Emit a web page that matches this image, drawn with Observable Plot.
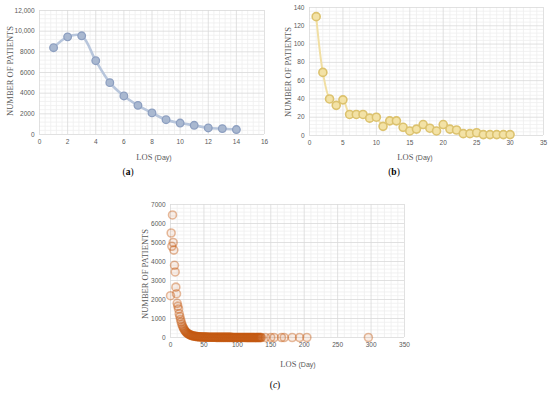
<!DOCTYPE html>
<html>
<head>
<meta charset="utf-8">
<script src="https://cdn.jsdelivr.net/npm/d3@7"></script>
<script src="https://cdn.jsdelivr.net/npm/@observablehq/plot@0.6"></script>
<style>
  html, body { margin: 0; padding: 0; background: #fff; }
  #root { position: relative; width: 550px; height: 394px; overflow: hidden; background: #fff; }
  .panel { position: absolute; }
  .ytitle { position: absolute; font-family: "Liberation Serif", "DejaVu Serif", serif; font-size: 8.5px; color: #595959;
            transform: translate(-50%, -50%) rotate(-90deg); white-space: nowrap; }
  .xtitle { position: absolute; transform: translate(-50%, -50%); white-space: nowrap; color: #595959; }
  .xtitle .s { font-family: "Liberation Serif", serif; font-size: 8.5px; }
  .xtitle .d { font-family: "Liberation Sans", sans-serif; font-size: 7px; }
  .plabel { position: absolute; transform: translate(-50%, -50%); font-family: "Liberation Serif", serif; font-size: 9.5px; color: #000; }
</style>
</head>
<body>
<div id="root"></div>
<script>
// ---------- Data ----------
// (a)
const losA = [1, 2, 3, 4, 5, 6, 7, 8, 9, 10, 11, 12, 13, 14];
const patientsA = [8400, 9450, 9550, 7140, 5020, 3730, 2820, 2090, 1430, 1110, 890, 635, 570, 480];
const xTicksA = [0, 2, 4, 6, 8, 10, 12, 14, 16];
const yTicksA = [0, 2000, 4000, 6000, 8000, 10000, 12000];
const yTickLabelsA = ["0", "2000", "4000", "6000", "8000", "10,000", "12,000"];

// (b)
const losB = [1, 2, 3, 4, 5, 6, 7, 8, 9, 10, 11, 12, 13, 14, 15, 16, 17, 18, 19, 20, 21, 22, 23, 24, 25, 26, 27, 28, 29, 30];
const patientsB = [130, 69, 40, 33, 39, 23, 23, 23, 19, 20, 10, 16, 16, 9, 5, 7, 12, 8, 5, 12, 7, 6, 2, 2, 3, 1, 1, 1, 1, 1];
const xTicksB = [0, 5, 10, 15, 20, 25, 30, 35];
const yTicksB = [0, 20, 40, 60, 80, 100, 120, 140];

// (c)
const losC = [
  0, 1, 2, 3, 4, 5, 6, 7, 8, 9,
  10, 11, 12, 13, 14, 15, 16, 17, 18, 19,
  20, 21, 22, 23, 24, 25, 26, 27, 28, 29,
  30, 31, 32, 33, 34, 35, 36, 37, 38, 39,
  40, 41, 42, 43, 44, 45, 46, 47, 48, 49,
  50, 51, 52, 53, 54, 55, 56, 57, 58, 59,
  60, 61, 62, 63, 64, 65, 66, 67, 68, 69,
  70, 71, 72, 73, 74, 75, 76, 77, 78, 79,
  80, 81, 82, 83, 84, 85, 86, 87, 88, 89,
  90, 91, 92, 93, 94, 95, 96, 97, 98, 99,
  100, 101, 102, 103, 104, 105, 106, 107, 108, 109,
  110, 111, 112, 113, 114, 115, 116, 117, 118, 119,
  120, 121, 122, 123, 124, 125, 126, 127, 128, 129,
  130, 131, 132, 133, 134, 135, 136,
  142, 150, 155, 166, 170, 182, 193, 204, 296
];
const patientsC = [
  2200, 5500, 4800, 6450, 5000, 4600, 3800, 3450, 2650, 2300,
  1800, 1650, 1500, 1250, 1100, 950, 820, 700, 600, 520,
  450, 390, 340, 300, 260, 230, 200, 180, 160, 140,
  125, 112, 100, 90, 82, 74, 67, 60, 55, 50,
  46, 42, 39, 36, 33, 31, 29, 27, 25, 23,
  22, 21, 20, 19, 18, 17, 16, 15, 15, 14,
  13, 13, 12, 12, 11, 11, 10, 10, 9, 9,
  9, 8, 8, 8, 7, 7, 7, 6, 6, 6,
  6, 5, 5, 5, 5, 5, 4, 4, 4, 4,
  4, 4, 3, 3, 3, 3, 3, 3, 3, 3,
  2, 2, 2, 2, 2, 2, 2, 2, 2, 2,
  2, 2, 2, 1, 1, 1, 1, 1, 1, 1,
  1, 1, 1, 1, 1, 1, 1, 1, 1, 1,
  1, 1, 1, 1, 1, 1, 1,
  1, 1, 1, 1, 1, 1, 1, 1, 1
];
const xTicksC = [0, 50, 100, 150, 200, 250, 300, 350];
const yTicksC = [0, 1000, 2000, 3000, 4000, 5000, 6000, 7000];

const yTitle = "NUMBER OF PATIENTS";
const panelLabels = ["a", "b", "c"];

// ---------- Build ----------
const root = document.getElementById("root");
const tableA = losA.map((d, i) => ({los: d, n: patientsA[i]}));
const tableB = losB.map((d, i) => ({los: d, n: patientsB[i]}));
const tableC = losC.map((d, i) => ({los: d, n: patientsC[i]}));

function minor(ticks, parts) {
  const out = [];
  for (let i = 0; i < ticks.length - 1; i++) {
    const step = (ticks[i + 1] - ticks[i]) / parts;
    for (let k = 1; k < parts; k++) out.push(ticks[i] + k * step);
  }
  return out;
}

function panel({left, top, width, height, margin, xTicks, yTicks, yFormat, marks}) {
  const svg = Plot.plot({
    width, height,
    marginLeft: margin[3], marginRight: margin[1], marginTop: margin[0], marginBottom: margin[2],
    style: {fontFamily: "'Liberation Sans', Arial, sans-serif", fontSize: "6.5px", color: "#595959", background: "transparent", overflow: "visible"},
    x: {domain: [xTicks[0], xTicks[xTicks.length - 1]]},
    y: {domain: [yTicks[0], yTicks[yTicks.length - 1]]},
    marks: [
      Plot.gridX(minor(xTicks, 5), {stroke: "#efefef", strokeOpacity: 1, strokeWidth: 0.8}),
      Plot.gridY(minor(yTicks, 5), {stroke: "#efefef", strokeOpacity: 1, strokeWidth: 0.8}),
      Plot.gridX(xTicks, {stroke: "#d9d9d9", strokeOpacity: 1, strokeWidth: 0.8}),
      Plot.gridY(yTicks, {stroke: "#d9d9d9", strokeOpacity: 1, strokeWidth: 0.8}),
      Plot.axisX(xTicks, {tickSize: 0, tickPadding: 5, label: null}),
      Plot.axisY(yTicks, {tickSize: 0, tickPadding: 5, label: null, tickFormat: yFormat || (d => String(d))}),
      ...marks
    ]
  });
  svg.classList.add("panel");
  svg.style.left = left + "px";
  svg.style.top = top + "px";
  root.appendChild(svg);
}

function addText(cls, html, x, y) {
  const el = document.createElement("div");
  el.className = cls;
  el.innerHTML = html;
  el.style.left = x + "px";
  el.style.top = y + "px";
  root.appendChild(el);
}

// (a)
panel({
  left: 0, top: 0, width: 275, height: 150, margin: [10, 11, 16, 39],
  xTicks: xTicksA, yTicks: yTicksA,
  yFormat: d => yTickLabelsA[yTicksA.indexOf(d)],
  marks: [
    Plot.line(tableA, {x: "los", y: "n", stroke: "#b8c6dc", strokeWidth: 2.6, curve: "catmull-rom"}),
    Plot.dot(tableA, {x: "los", y: "n", r: 3.8, fill: "#a9b8d0", stroke: "#8d9fc0", strokeWidth: 1.3})
  ]
});

// (b)
panel({
  left: 275, top: 0, width: 275, height: 150, margin: [7, 7, 15, 34],
  xTicks: xTicksB, yTicks: yTicksB,
  marks: [
    Plot.line(tableB, {x: "los", y: "n", stroke: "#f1dfa3", strokeWidth: 2, curve: "catmull-rom"}),
    Plot.dot(tableB, {x: "los", y: "n", r: 4, fill: "#f3e2a6", stroke: "#dcc26e", strokeWidth: 1.6})
  ]
});

// (c)
panel({
  left: 130, top: 195, width: 280, height: 161, margin: [9, 6, 19, 40],
  xTicks: xTicksC, yTicks: yTicksC,
  marks: [
    Plot.dot(tableC, {x: "los", y: "n", r: 4, fill: "#c55a11", fillOpacity: 0.1, stroke: "#c55a11", strokeOpacity: 0.4, strokeWidth: 1.6})
  ]
});

// titles
addText("ytitle", yTitle, 10, 71);
addText("ytitle", yTitle, 288, 72);
addText("ytitle", yTitle, 145, 274);

const losLabel = '<span class="s">LOS </span><span class="d">(Day)</span>';
addText("xtitle", losLabel, 154, 155);
addText("xtitle", losLabel, 415, 155);
addText("xtitle", losLabel, 298, 362);

addText("plabel", "(<b>" + panelLabels[0] + "</b>)", 128, 172);
addText("plabel", "(<b>" + panelLabels[1] + "</b>)", 394, 172);
addText("plabel", "(<i>" + panelLabels[2] + "</i>)", 275, 385);
</script>
</body>
</html>
